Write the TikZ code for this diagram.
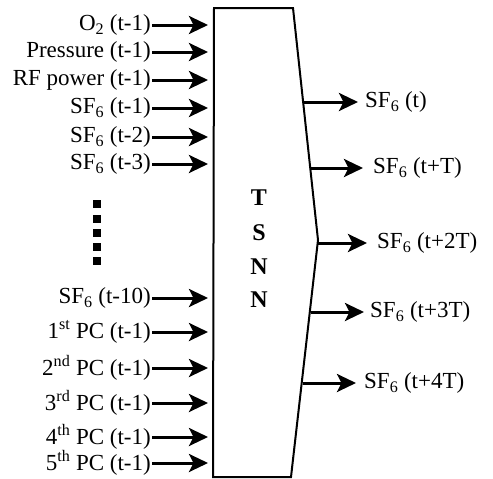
\documentclass[tikz,border=0pt]{standalone}
\usepackage{fontspec}
\setmainfont{Liberation Serif}
\usetikzlibrary{arrows.meta}
\begin{document}
\begin{tikzpicture}[x=1pt,y=-1pt,
  lbl/.style={font=\fontsize{23}{26}\selectfont, inner sep=1pt},
  inlbl/.style={lbl, anchor=east},
  outlbl/.style={lbl, anchor=west},
  arr/.style={line width=3pt, -{Stealth[length=19pt,width=18pt,inset=4.5pt]}},
  boxline/.style={line width=2pt, line join=miter},
  dot/.style={fill=black, minimum size=7.5pt, inner sep=0pt, rectangle},
  big/.style={font=\fontsize{24}{26}\selectfont\bfseries, inner sep=0pt}]
\useasboundingbox (0,0) rectangle (493,479);
% box
\coordinate (tl) at (214,8);
\coordinate (tr) at (293,8);
\coordinate (tip) at (318,240);
\coordinate (br) at (291,477);
\coordinate (bl) at (213,477);
\draw[boxline] (tl) -- (tr) -- (tip) -- (br) -- (bl) -- cycle;
\node[big] (T) at (259,198) {T};
\node[big] (S) at (259,233) {S};
\node[big] (N1) at (259,267) {N};
\node[big] (N2) at (259,300) {N};
% inputs
\foreach \n/\y/\t in {
  i1/25/{O\textsubscript{2} (t-1)},
  i2/52/{Pressure (t-1)},
  i3/80/{RF power (t-1)},
  i4/108/{SF\textsubscript{6} (t-1)},
  i5/137/{SF\textsubscript{6} (t-2)},
  i6/164/{SF\textsubscript{6} (t-3)},
  i7/298/{SF\textsubscript{6} (t-10)},
  i8/332/{1\textsuperscript{st} PC (t-1)},
  i9/368/{2\textsuperscript{nd} PC (t-1)},
  i10/403/{3\textsuperscript{rd} PC (t-1)},
  i11/437/{4\textsuperscript{th} PC (t-1)},
  i12/463/{5\textsuperscript{th} PC (t-1)}}{
  \node[inlbl] (\n) at (152,\y) {\t};
  \coordinate (\n e) at (208,\y);
  \draw[arr] (\n.east) -- (\n e);
}
% dots
\foreach \k/\y in {1/204,2/219,3/233,4/247,5/261}
  \node[dot] (d\k) at (97,\y) {};
% outputs
\foreach \n/\y/\xs/\xe/\xt/\t in {
  o1/102/303/358/364/{SF\textsubscript{6} (t)},
  o2/168/311/363/372/{SF\textsubscript{6} (t+T)},
  o3/243/318/367/376/{SF\textsubscript{6} (t+2T)},
  o4/312/311/364/369/{SF\textsubscript{6} (t+3T)},
  o5/383/303/356/363/{SF\textsubscript{6} (t+4T)}}{
  \coordinate (\n s) at (\xs,\y);
  \coordinate (\n e) at (\xe,\y);
  \node[outlbl] (\n) at (\xt,\y) {\t};
  \draw[arr] (\n s) -- (\n e);
}
\end{tikzpicture}
\end{document}
